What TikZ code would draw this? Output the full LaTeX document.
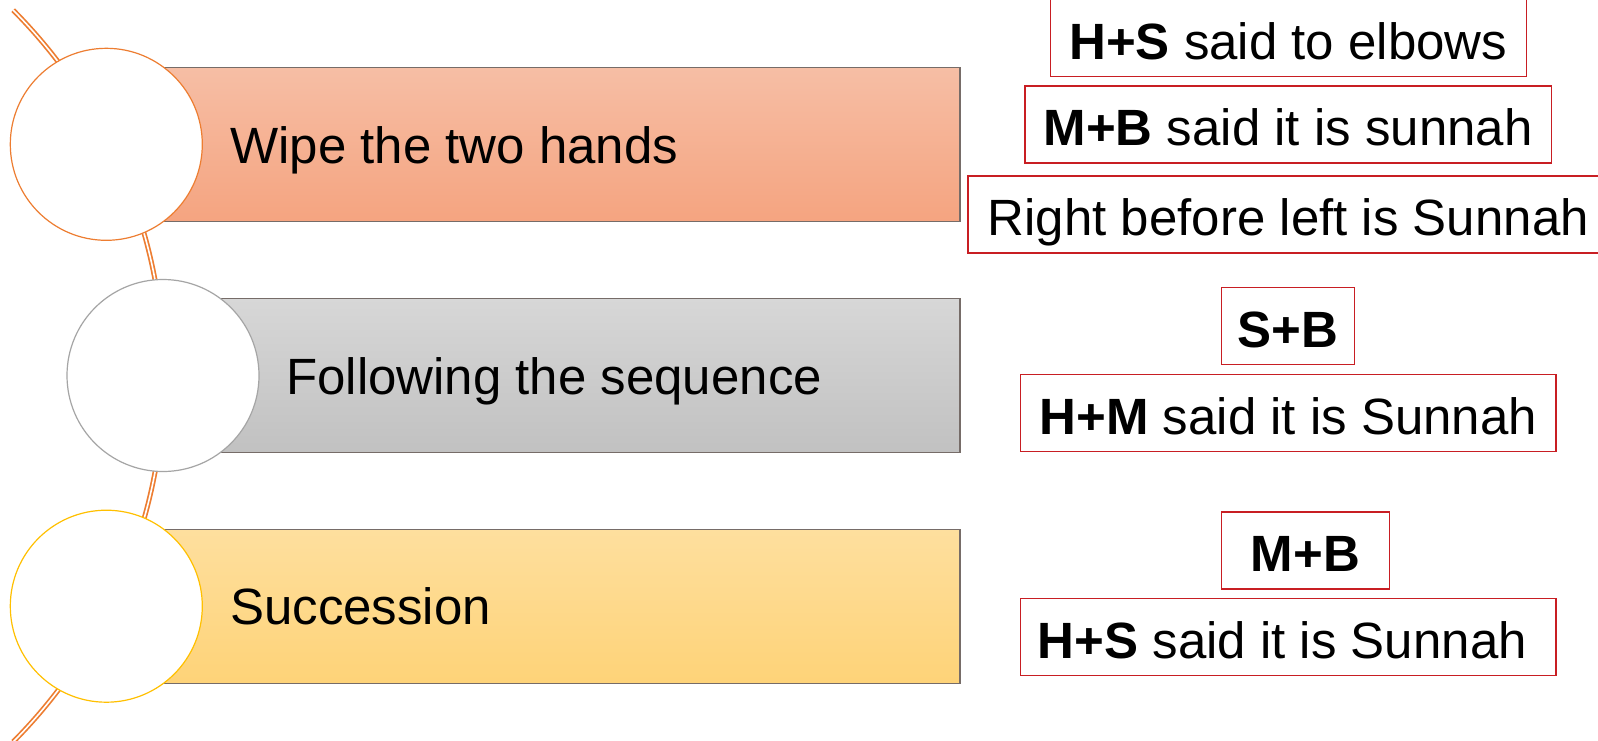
\documentclass[tikz,border=0pt]{standalone}
\usepackage{fontspec}
\setmainfont{Liberation Sans}
\definecolor{salmonT}{RGB}{246,190,165}
\definecolor{salmonB}{RGB}{245,164,128}
\definecolor{grayT}{RGB}{215,215,215}
\definecolor{grayB}{RGB}{193,193,193}
\definecolor{goldT}{RGB}{254,223,158}
\definecolor{goldB}{RGB}{254,211,120}
\definecolor{orangeA}{RGB}{237,125,49}
\definecolor{grayC}{RGB}{165,165,165}
\definecolor{goldC}{RGB}{255,192,0}
\definecolor{barline}{RGB}{118,108,104}
\definecolor{notered}{RGB}{200,30,35}
\begin{document}
\begin{tikzpicture}[x=1pt,y=1pt,
  bar/.style={rectangle, draw=barline, line width=1.2pt, minimum height=154pt, inner sep=0pt},
  disc/.style={circle, fill=white, line width=1.2pt, minimum size=192pt, inner sep=0pt},
  lbl/.style={anchor=base west, font=\fontsize{51}{60}\selectfont, inner sep=0pt},
  note/.style={rectangle, draw=notered, line width=1.4pt, minimum height=77pt, inner sep=0pt,
    text height=42.8pt, text depth=0pt, font=\fontsize{51}{60}\selectfont},
  arcline/.style={draw=orangeA, line width=1.7pt, double=white, double distance=1.6pt}
]
\useasboundingbox (0,0) rectangle (1598,-740);
\fill[white] (0,0) rectangle (1598,-740);
% background arc
\draw[arcline] (-355.2,-376) ++(44.8:519.2) arc[start angle=44.8, end angle=-44.8, radius=519.2];
% bars
\node[bar, top color=salmonT, bottom color=salmonB, minimum width=854pt] (r1) at (533,-144.3) {};
\node[bar, top color=grayT, bottom color=grayB, minimum width=797pt] (r2) at (561.5,-375.5) {};
\node[bar, top color=goldT, bottom color=goldB, minimum width=854pt] (r3) at (533,-606.2) {};
% circles
\node[disc, draw=orangeA] (c1) at (106.3,-144.3) {};
\node[disc, draw=grayC] (c2) at (163,-375.5) {};
\node[disc, draw=goldC] (c3) at (106.3,-606.2) {};
% bar labels
\node[lbl] (t1) at (230,-163) {Wipe the two hands};
\node[lbl] (t2) at (286,-394.2) {Following the sequence};
\node[lbl] (t3) at (230,-624.7) {Succession};
% notes
\node[note, minimum width=475.8pt] (nA) at (1288.3,-38) {\textbf{H+S} said to elbows};
\node[note, minimum width=526.4pt] (nB) at (1288.2,-124.5) {\textbf{M+B} said it is sunnah};
\node[note, minimum width=640.6pt] (nC) at (1288.3,-214.5) {Right before left is Sunnah};
\node[note, minimum width=133pt] (nD) at (1288,-326.2) {\textbf{S+B}};
\node[note, minimum width=535.4pt] (nE) at (1288.3,-412.8) {\textbf{H+M} said it is Sunnah};
\node[note, minimum width=168pt] (nF) at (1305.5,-550.5) {\textbf{M+B}};
\node[note, minimum width=535.4pt] (nG) at (1288.3,-637) {\textbf{H+S} said it is Sunnah\hspace*{12pt}};
\end{tikzpicture}
\end{document}
